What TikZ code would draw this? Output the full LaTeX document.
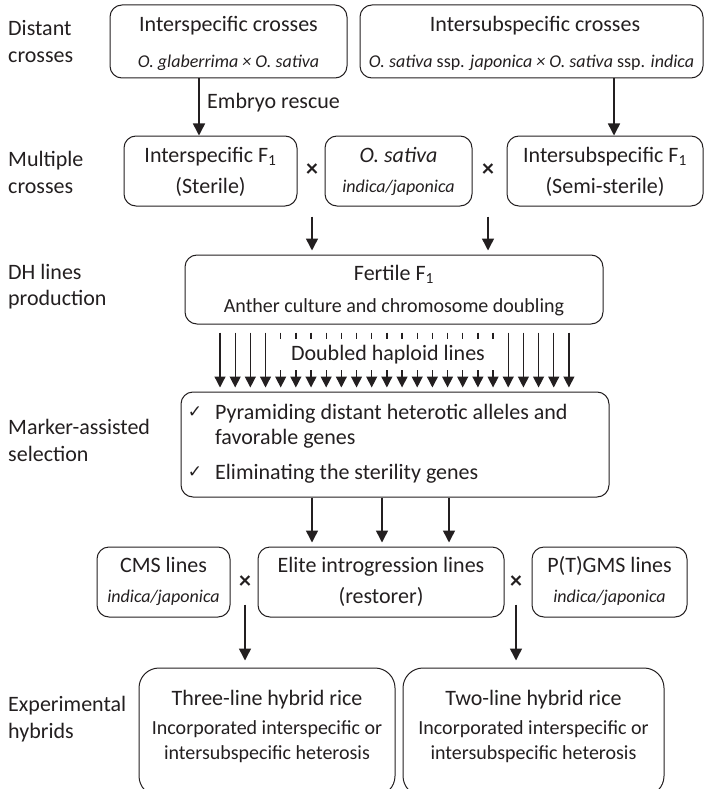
\documentclass[tikz,border=0pt]{standalone}
\usepackage{fontspec}
\setmainfont{Carlito}
\newfontfamily\dejavu{DejaVu Sans}
\usetikzlibrary{arrows.meta}
\definecolor{ink}{HTML}{231F20}
\begin{document}
\begin{tikzpicture}[x=1pt,y=-1pt,
  box/.style={draw=ink, line width=1pt, rounded corners=12pt, inner sep=0},
  bigbox/.style={box, rounded corners=20pt},
  tl/.style={inner sep=0, anchor=base, text=ink, font=\fontsize{22}{26}\selectfont},
  ts/.style={tl, font=\fontsize{20}{24}\selectfont},
  ti/.style={tl, font=\fontsize{18}{22}\selectfont\itshape},
  side/.style={tl, anchor=base west},
  arr/.style={draw=ink, line width=1.5pt, -{Triangle[width=12pt,length=12pt]}},
  dh/.style={draw=ink, line width=1.3pt, -{Triangle[width=11pt,length=11pt]}},
  cross/.style={inner sep=0, text=ink, font=\fontsize{24}{28}\selectfont\bfseries},
  chk/.style={inner sep=0, text=ink, font=\dejavu\fontsize{17}{19}\selectfont},
]
\useasboundingbox (0,0) rectangle (704,789);
\clip (0,0) rectangle (704,789);

% side labels
\node[side] (s1a) at (8,36) {Distant};
\node[side] (s1b) at (8,63) {crosses};
\node[side] (s2a) at (8,166) {Multiple};
\node[side] (s2b) at (8,193) {crosses};
\node[side] (s3a) at (8,279) {DH lines};
\node[side] (s3b) at (8,305) {production};
\node[side] (s4a) at (8,434) {Marker-assisted};
\node[side] (s4b) at (8,461) {selection};
\node[side] (s5a) at (8,711) {Experimental};
\node[side] (s5b) at (8,738) {hybrids};

% row 1
\node[box, minimum width=237pt, minimum height=73pt] (b1) at (228.5,41.5) {};
\node[tl] (b1t) at (228.5,32) {Interspecific crosses};
\node[ti] (b1s) at (228.5,68) {O. glaberrima × O. sativa};
\node[box, minimum width=343pt, minimum height=73pt] (b2) at (531.5,41.5) {};
\node[tl] (b2t) at (535,32) {Intersubspecific crosses};
\node[ti] (b2s) at (531.5,68) {O. sativa {\upshape ssp.} japonica × O. sativa {\upshape ssp.} indica};

% row 2
\node[box, minimum width=173pt, minimum height=70pt] (b3) at (210.5,171) {};
\node[tl] (b3t) at (210.5,162) {Interspecific F\textsubscript{1}};
\node[tl] (b3s) at (210.5,193) {(Sterile)};
\node[box, minimum width=147pt, minimum height=70pt] (b4) at (398.5,171) {};
\node[tl, font=\fontsize{22}{26}\selectfont\itshape] (b4t) at (398.5,162) {O. sativa};
\node[ti] (b4s) at (398.5,192) {indica/japonica};
\node[box, minimum width=196pt, minimum height=70pt] (b5) at (605,171) {};
\node[tl] (b5t) at (605,162) {Intersubspecific F\textsubscript{1}};
\node[tl] (b5s) at (605,193) {(Semi-sterile)};
\node[cross] (c1) at (312,170) {×};
\node[cross] (c2) at (488,170) {×};

\coordinate (xa) at (199,0);
\coordinate (xb) at (614,0);
\draw[arr] (b1.south -| xa) -- (b3.north -| xa);
\node[tl, anchor=base west] (emb) at (207,109) {Embryo rescue};
\draw[arr] (b2.south -| xb) -- (b5.north -| xb);

% row 3
\node[box, minimum width=418pt, minimum height=69pt] (b6) at (394,289.5) {};
\node[tl] (b6t) at (394,280) {Fertile F\textsubscript{1}};
\node[ts] (b6s) at (394,312) {Anther culture and chromosome doubling};
\draw[arr, shorten >=4pt] ([yshift=-40pt]c1.south) -- (c1.south |- b6.north);
\draw[arr, shorten >=4pt] ([yshift=-40pt]c2.south) -- (c2.south |- b6.north);

% row 4
\node[box, minimum width=428pt, minimum height=105pt] (b7) at (395,444.5) {};
\foreach \i in {0,...,23} {
  \coordinate (d\i) at ({220+15.17*\i},0);
  \draw[dh, shorten <=8pt, shorten >=4pt] (b6.south -| d\i) -- (b7.north -| d\i);
}
\node[fill=white, inner sep=0, minimum width=226pt, minimum height=31pt, text=ink,
      font=\fontsize{22}{26}\selectfont] (dhl) at (388,354.5) {Doubled haploid lines};
\node[chk] (k1) at (195,412) {✓};
\node[chk] (k2) at (195,472) {✓};
\node[side] (p1) at (215,419) {Pyramiding distant heterotic alleles and};
\node[side] (p2) at (215,444) {favorable genes};
\node[side] (p3) at (215,479) {Eliminating the sterility genes};

% row 5
\node[box, minimum width=133pt, minimum height=70pt] (cms) at (163.5,582) {};
\node[tl] (cmst) at (163.5,572) {CMS lines};
\node[ti] (cmss) at (163.5,602) {indica/japonica};
\node[box, minimum width=246pt, minimum height=70pt] (eli) at (381,582) {};
\node[tl] (elit) at (381,572) {Elite introgression lines};
\node[tl] (elis) at (381,603) {(restorer)};
\node[box, minimum width=155pt, minimum height=70pt] (pgm) at (609.5,582) {};
\node[tl] (pgmt) at (609.5,572) {P(T)GMS lines};
\node[ti] (pgms) at (609.5,602) {indica/japonica};
\node[cross] (c3) at (245,582) {×};
\node[cross] (c4) at (516,582) {×};
\coordinate (e1) at (312,0);
\coordinate (e2) at (382,0);
\coordinate (e3) at (449,0);
\foreach \e in {e1,e2,e3} {
  \draw[arr, shorten >=4pt] (b7.south -| \e) -- (eli.north -| \e);
}

% row 6
\node[bigbox, minimum width=256pt, minimum height=128pt] (thr) at (267,732) {};
\node[tl] (thrt) at (267,705) {Three-line hybrid rice};
\node[ts] (thr1) at (267,734) {Incorporated interspecific or};
\node[ts] (thr2) at (267,759) {intersubspecific heterosis};
\node[bigbox, minimum width=261pt, minimum height=128pt] (two) at (533.5,732) {};
\node[tl] (twot) at (533.5,705) {Two-line hybrid rice};
\node[ts] (two1) at (533.5,734) {Incorporated interspecific or};
\node[ts] (two2) at (533.5,759) {intersubspecific heterosis};
\draw[arr, shorten >=7pt] ([yshift=-16pt]c3.south) -- (c3.south |- thr.north);
\draw[arr, shorten >=7pt] ([yshift=-16pt]c4.south) -- (c4.south |- two.north);
\end{tikzpicture}
\end{document}
